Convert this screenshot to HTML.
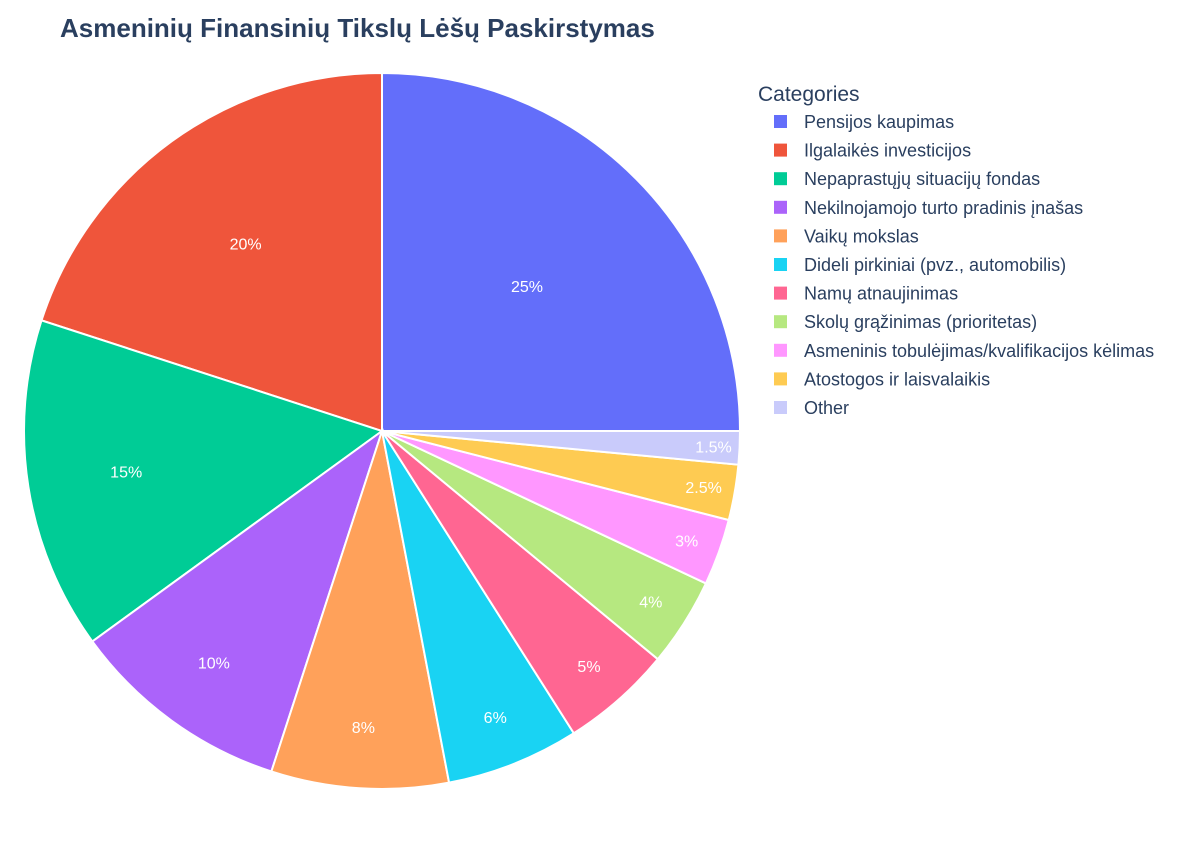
<!DOCTYPE html>
<html><head><meta charset="utf-8">
<style>
body{margin:0;background:#fff;font-family:"Liberation Sans",Arial,sans-serif;}
svg text{font-family:"Liberation Sans",Arial,sans-serif;}
</style></head>
<body>
<svg id="chart" width="1200" height="840" xmlns="http://www.w3.org/2000/svg">
<rect width="1200" height="840" fill="#fff"/>
<text x="60" y="37" font-size="26" font-weight="bold" fill="#2a3f5f">Asmeninių Finansinių Tikslų Lėšų Paskirstymas</text>
<g id="slices"></g>
<g id="labels"></g>
<g id="legend">
<text x="758" y="101" font-size="21" fill="#2a3f5f">Categories</text>
</g>
</svg>
<script>
const categories = ["Pensijos kaupimas","Ilgalaikės investicijos","Nepaprastųjų situacijų fondas","Nekilnojamojo turto pradinis įnašas","Vaikų mokslas","Dideli pirkiniai (pvz., automobilis)","Namų atnaujinimas","Skolų grąžinimas (prioritetas)","Asmeninis tobulėjimas/kvalifikacijos kėlimas","Atostogos ir laisvalaikis","Other"];
const values = [25,20,15,10,8,6,5,4,3,2.5,1.5];
const valueLabels = ["25%","20%","15%","10%","8%","6%","5%","4%","3%","2.5%","1.5%"];
const colors = ["#636efa","#EF553B","#00cc96","#ab63fa","#FFA15A","#19d3f3","#FF6692","#B6E880","#FF97FF","#FECB52","#c9cbfb"];
const NS="http://www.w3.org/2000/svg";
const cx=382, cy=431, R=358;
const total=values.reduce((a,b)=>a+b,0);
const sl=document.getElementById('slices'), lb=document.getElementById('labels'), lg=document.getElementById('legend');
function pt(a,r){return [cx+r*Math.sin(a), cy-r*Math.cos(a)];}
let start=Math.PI/2;
values.forEach((v,i)=>{
  const sweep=v/total*2*Math.PI, end=start-sweep;
  const [x1,y1]=pt(start,R),[x2,y2]=pt(end,R);
  const p=document.createElementNS(NS,'path');
  p.setAttribute('d',`M${cx},${cy}L${x1},${y1}A${R},${R} 0 ${sweep>Math.PI?1:0} 0 ${x2},${y2}Z`);
  p.setAttribute('fill',colors[i]);p.setAttribute('stroke','#fff');p.setAttribute('stroke-width','2');
  
  
  sl.appendChild(p);
  const pct=v/total*100;
  const d=Math.min(333,340-5.4*pct);
  const [tx,ty]=pt(start-sweep/2,d);
  const t=document.createElementNS(NS,'text');
  t.setAttribute('x',tx);t.setAttribute('y',ty+6);t.setAttribute('text-anchor','middle');
  t.setAttribute('font-size','16');t.setAttribute('fill','#fff');
  t.textContent=valueLabels[i];
  
  
  lb.appendChild(t);
  start=end;
  const g=document.createElementNS(NS,'g');
  
  
  const y=122+i*28.6;
  const r=document.createElementNS(NS,'rect');
  r.setAttribute('x',774);r.setAttribute('y',y-7);r.setAttribute('width',13);r.setAttribute('height',13);r.setAttribute('fill',colors[i]);
  g.appendChild(r);
  const lt=document.createElementNS(NS,'text');
  lt.setAttribute('x',804);lt.setAttribute('y',y+6);lt.setAttribute('font-size','18');lt.setAttribute('fill','#2a3f5f');
  lt.textContent=categories[i];
  g.appendChild(lt);
  lg.appendChild(g);
});
</script>
</body></html>
